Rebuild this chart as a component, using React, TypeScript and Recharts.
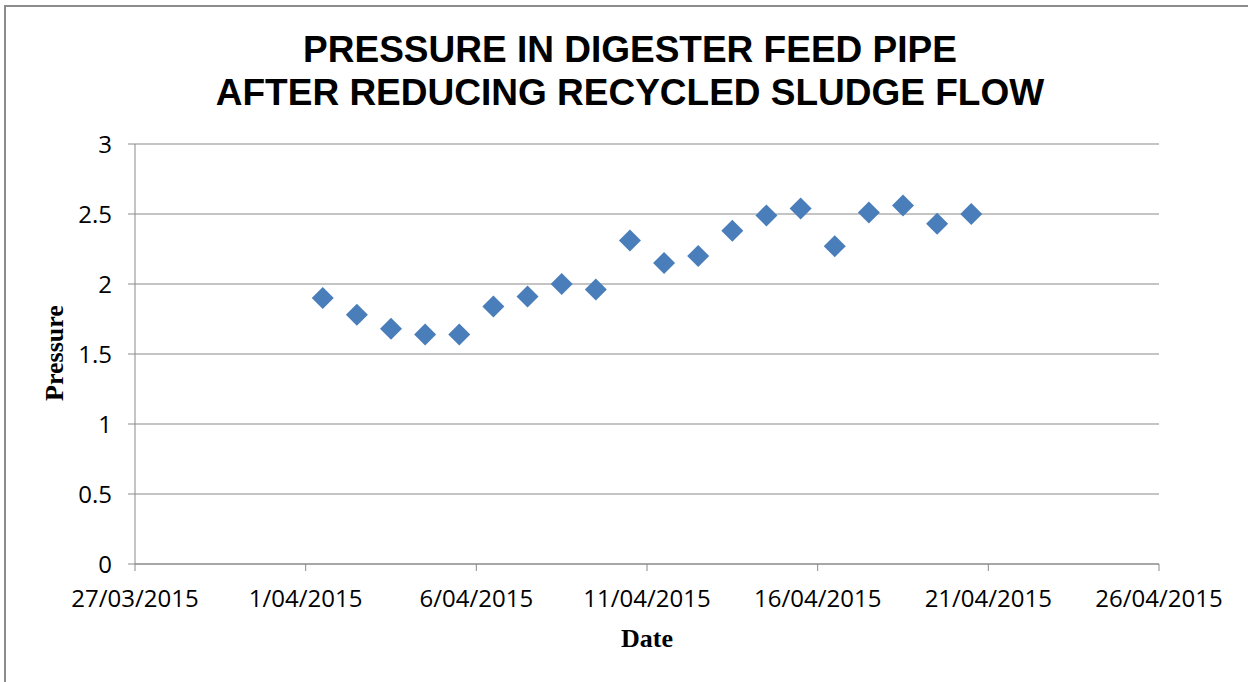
import React from 'react'
import { ScatterChart, Scatter, XAxis, YAxis, CartesianGrid } from 'recharts'

// readings taken at noon each day
const readingDates = [
  '2015-04-01T12:00:00Z',
  '2015-04-02T12:00:00Z',
  '2015-04-03T12:00:00Z',
  '2015-04-04T12:00:00Z',
  '2015-04-05T12:00:00Z',
  '2015-04-06T12:00:00Z',
  '2015-04-07T12:00:00Z',
  '2015-04-08T12:00:00Z',
  '2015-04-09T12:00:00Z',
  '2015-04-10T12:00:00Z',
  '2015-04-11T12:00:00Z',
  '2015-04-12T12:00:00Z',
  '2015-04-13T12:00:00Z',
  '2015-04-14T12:00:00Z',
  '2015-04-15T12:00:00Z',
  '2015-04-16T12:00:00Z',
  '2015-04-17T12:00:00Z',
  '2015-04-18T12:00:00Z',
  '2015-04-19T12:00:00Z',
  '2015-04-20T12:00:00Z',
]

const pressureValues = [
  1.9, 1.78, 1.68, 1.64, 1.64, 1.84, 1.91, 2.0, 1.96, 2.31,
  2.15, 2.2, 2.38, 2.49, 2.54, 2.27, 2.51, 2.56, 2.43, 2.5,
]

const xTickDates = [
  '2015-03-27T00:00:00Z',
  '2015-04-01T00:00:00Z',
  '2015-04-06T00:00:00Z',
  '2015-04-11T00:00:00Z',
  '2015-04-16T00:00:00Z',
  '2015-04-21T00:00:00Z',
  '2015-04-26T00:00:00Z',
]

const yTicks = [0, 0.5, 1, 1.5, 2, 2.5, 3]

const titleLines = ['PRESSURE IN DIGESTER FEED PIPE', 'AFTER REDUCING RECYCLED SLUDGE FLOW']

const data = readingDates.map((d, i) => ({ t: Date.parse(d), pressure: pressureValues[i] }))
const xTicks = xTickDates.map((d) => Date.parse(d))

const formatDate = (ms: number) => {
  const d = new Date(ms)
  const mm = String(d.getUTCMonth() + 1).padStart(2, '0')
  return `${d.getUTCDate()}/${mm}/${d.getUTCFullYear()}`
}

const GRID = '#8a8a8a'
const MARKER = '#4a7ebb'
const tickStyle = { fontFamily: '"Open Sans", sans-serif', fontSize: 24, fill: '#000' }
const axisTitleStyle = { fontFamily: '"Liberation Serif", serif', fontSize: 26, fontWeight: 700 }

const Diamond = (props: any) => {
  const { cx, cy } = props
  if (cx == null || cy == null) return null
  const r = 11
  return (
    <polygon
      points={`${cx},${cy - r} ${cx + r},${cy} ${cx},${cy + r} ${cx - r},${cy}`}
      fill={MARKER}
    />
  )
}

export default function App() {
  return (
    <div
      style={{
        position: 'absolute',
        left: 0,
        top: 0,
        width: 1248,
        height: 682,
        overflow: 'hidden',
        background: '#fff',
      }}
    >
      <div
        style={{
          position: 'absolute',
          left: 4,
          top: 5,
          width: 1270,
          height: 700,
          border: '2px solid #8c8c8c',
        }}
      />
      <ScatterChart
        width={1248}
        height={682}
        margin={{ top: 144, right: 89, left: 0, bottom: 0 }}
        style={{ position: 'absolute', left: 0, top: 0 }}
      >
        <CartesianGrid vertical={false} stroke={GRID} strokeWidth={1.2} />
        <XAxis
          type="number"
          dataKey="t"
          domain={[xTicks[0], xTicks[xTicks.length - 1]]}
          ticks={xTicks}
          tickFormatter={formatDate}
          height={118}
          stroke={GRID}
          tickSize={7}
          tickMargin={19}
          tick={tickStyle}
          interval={0}
          label={{
            content: (p: any) => (
              <text
                x={p.viewBox.x + p.viewBox.width / 2}
                y={p.viewBox.y + 83}
                textAnchor="middle"
                style={axisTitleStyle}
              >
                Date
              </text>
            ),
          }}
        />
        <YAxis
          type="number"
          dataKey="pressure"
          domain={[0, 3]}
          ticks={yTicks}
          width={135}
          stroke={GRID}
          tickSize={7}
          tickMargin={16}
          tick={tickStyle}
          interval={0}
          label={{
            content: (p: any) => {
              const x = p.viewBox.x + 63
              const y = p.viewBox.y + p.viewBox.height / 2 - 1
              return (
                <text
                  x={x}
                  y={y}
                  textAnchor="middle"
                  transform={`rotate(-90 ${x} ${y})`}
                  style={axisTitleStyle}
                >
                  Pressure
                </text>
              )
            },
          }}
        />
        <Scatter data={data} shape={<Diamond />} isAnimationActive={false} />
      </ScatterChart>
      <svg
        width={1248}
        height={140}
        style={{ position: 'absolute', left: 0, top: 0, pointerEvents: 'none' }}
      >
        {titleLines.map((line, i) => (
          <text
            key={i}
            x={630}
            y={62 + i * 43}
            textAnchor="middle"
            style={{ fontFamily: '"Liberation Sans", Arial, sans-serif', fontSize: 37, fontWeight: 700 }}
          >
            {line}
          </text>
        ))}
      </svg>
    </div>
  )
}
